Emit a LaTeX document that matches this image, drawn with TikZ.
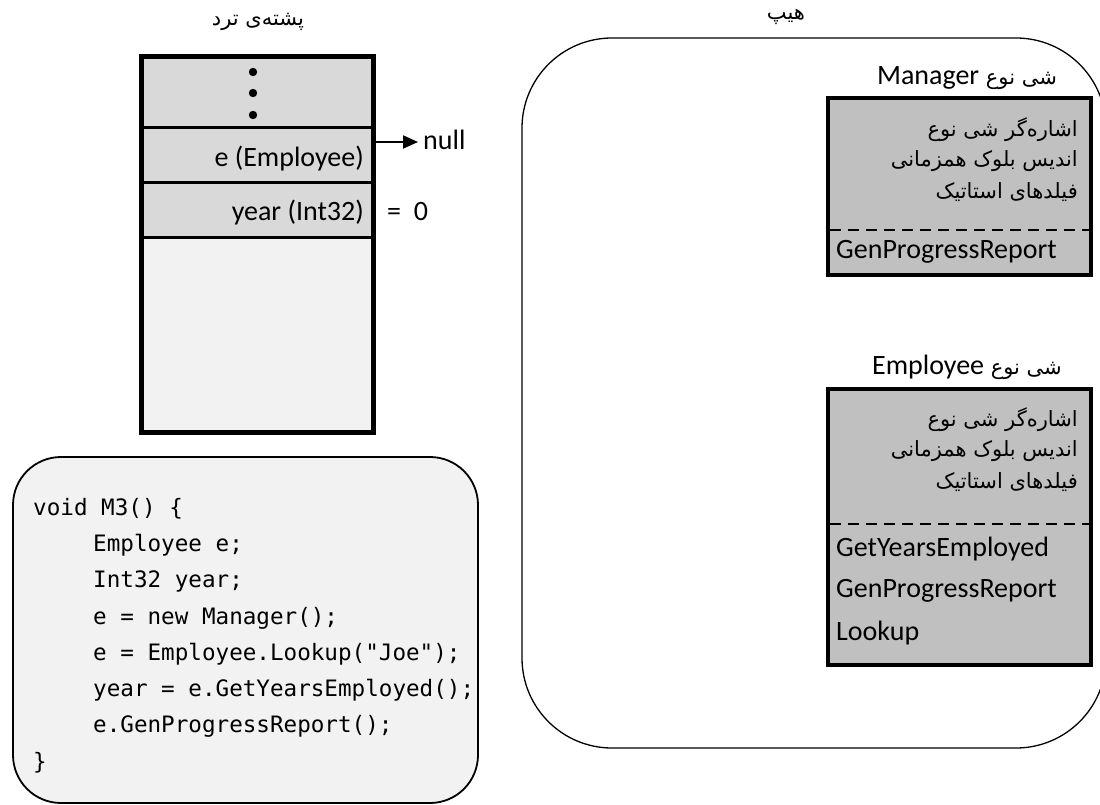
\documentclass[tikz,border=0pt]{standalone}
\usepackage{fontspec}
\setmainfont{Carlito}
\newfontfamily\fa[Script=Arabic]{DejaVu Sans}
\newfontfamily\codefont{DejaVu Sans Mono}
\TeXXeTstate=1
\usetikzlibrary{arrows.meta}
\definecolor{cellgray}{HTML}{D9D9D9}
\definecolor{lightbg}{HTML}{F2F2F2}
\definecolor{objgray}{HTML}{C0C0C0}
\begin{document}
\begin{tikzpicture}[x=1pt,y=-1pt,
  lat/.style={font=\fontsize{28}{32}\selectfont, inner sep=0pt},
  per/.style={font=\fontsize{21}{26}\selectfont\fa, inner sep=0pt},
  codeline/.style={font=\fontsize{22.6}{26}\selectfont\codefont, inner sep=0pt, anchor=base west},
  cellline/.style={line width=3pt},
  outerline/.style={line width=5pt},
  objbox/.style={draw, line width=4.5pt, fill=objgray},
  sepline/.style={line width=2.5pt, dash pattern=on 11pt off 7pt},
]
\useasboundingbox (0,0) rectangle (1100,805);

% ---------- heap ----------
\draw[line width=1.3pt, fill=white, rounded corners=90pt] (522,38) rectangle (1106,748);
\node[per] (heaplbl) at (786,17) {\beginR هیپ\endR};

% ---------- thread stack ----------
\node[per] (stacklbl) at (258,22) {\beginR پشته‌ی ترد\endR};
\fill[cellgray] (141,57) rectangle (373,237);
\fill[lightbg] (141,237) rectangle (373,432);
\draw[cellline] (141,128) -- (373,128);
\draw[cellline] (141,183) -- (373,183);
\draw[cellline] (141,237) -- (373,237);
\draw[outerline] (141,57) rectangle (373,432);
\fill (253,72) circle (4.2pt);
\fill (253,93) circle (4.2pt);
\fill (253,115) circle (4.2pt);
\node[lat, anchor=base east] (evar) at (364,167) {e (Employee)};
\node[lat, anchor=base east] (yvar) at (364,221) {year (Int32)};
\node[lat, anchor=base west] (null) at (423,150) {null};
\node[lat, anchor=base west] (zero) at (387,221) {=\ \ 0};
\coordinate (arrS) at (373,142);
\draw[line width=2pt, -{Triangle[length=15pt,width=13pt]}, shorten >=5pt] (arrS) -- (null.west |- arrS);

% ---------- code ----------
\draw[line width=1.8pt, fill=lightbg, rounded corners=48pt] (13,457) rectangle (478,803);
\node[codeline] (c1) at (33,515) {void M3() \{};
\node[codeline] (c2) at (93,551) {Employee e;};
\node[codeline] (c3) at (93,587) {Int32 year;};
\node[codeline] (c4) at (93,624) {e = new Manager();};
\node[codeline] (c5) at (93,660) {e = Employee.Lookup("Joe");};
\node[codeline] (c6) at (93,696) {year = e.GetYearsEmployed();};
\node[codeline] (c7) at (93,732) {e.GenProgressReport();};
\node[codeline] (c8) at (33,769) {\}};

% ---------- Manager type object ----------
\node[lat, anchor=center] (mtitle) at (967,78) {\fa\fontsize{21}{26}\selectfont\beginR شی نوع {\rmfamily\fontsize{28}{32}\selectfont Manager}\endR};
\draw[objbox] (828,98) rectangle (1091,275);
\draw[sepline] (830,230) -- (1089,230);
\node[per, anchor=east] (m1) at (1078,130) {\beginR اشاره‌گر شی نوع\endR};
\node[per, anchor=east] (m2) at (1078,161) {\beginR اندیس بلوک همزمانی\endR};
\node[per, anchor=east] (m3) at (1078,192) {\beginR فیلدهای استاتیک\endR};
\node[lat, anchor=west] (m4) at (836,252) {GenProgressReport};

% ---------- Employee type object ----------
\node[lat, anchor=center] (etitle) at (967,367) {\fa\fontsize{21}{26}\selectfont\beginR شی نوع {\rmfamily\fontsize{28}{32}\selectfont Employee}\endR};
\draw[objbox] (828,389) rectangle (1091,665);
\draw[sepline] (830,524) -- (1089,524);
\node[per, anchor=east] (e1) at (1078,420) {\beginR اشاره‌گر شی نوع\endR};
\node[per, anchor=east] (e2) at (1078,451) {\beginR اندیس بلوک همزمانی\endR};
\node[per, anchor=east] (e3) at (1078,482) {\beginR فیلدهای استاتیک\endR};
\node[lat, anchor=west] (e4) at (836,549) {GetYearsEmployed};
\node[lat, anchor=west] (e5) at (836,591) {GenProgressReport};
\node[lat, anchor=west] (e6) at (836,633) {Lookup};
\end{tikzpicture}
\end{document}
